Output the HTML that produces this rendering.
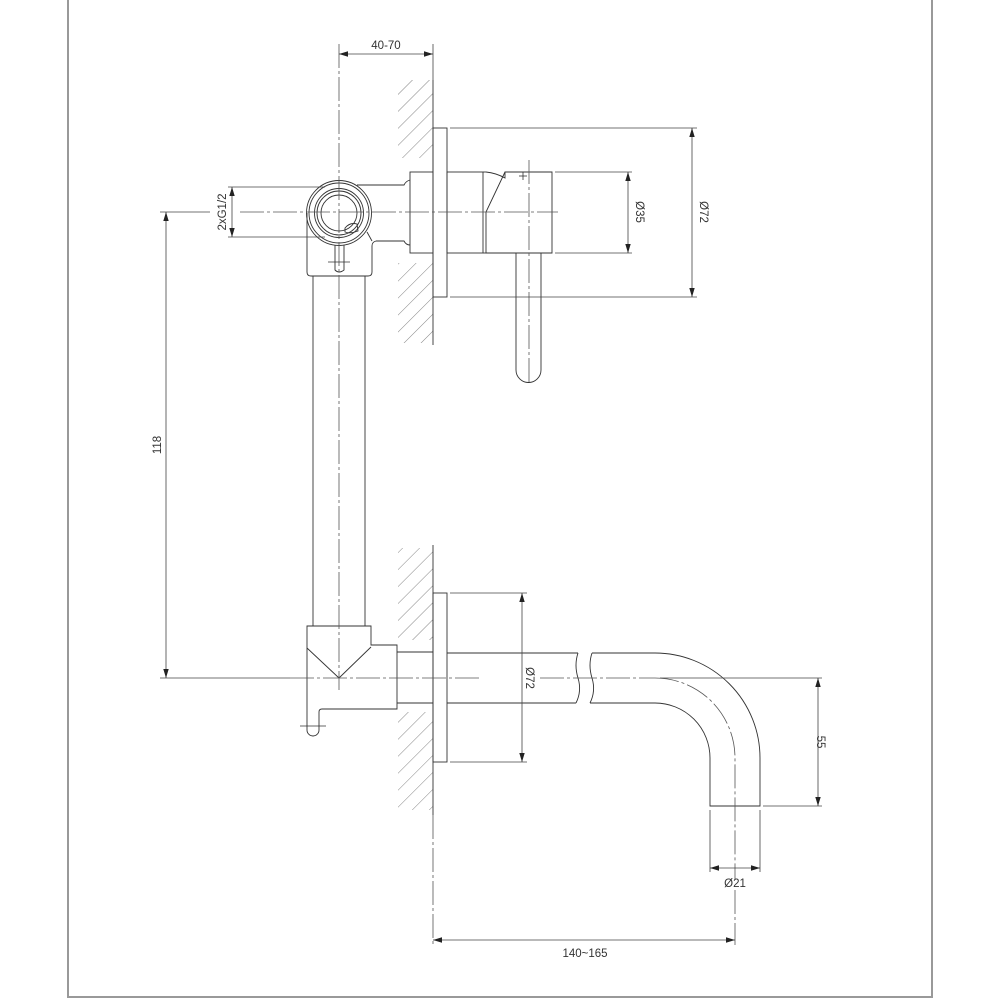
<!DOCTYPE html>
<html><head><meta charset="utf-8"><style>
html,body{margin:0;padding:0;background:#fff;}
svg{display:block;}
text{font-family:"Liberation Sans",sans-serif;font-size:11.5px;fill:#333;}
</style></head><body>
<svg width="1000" height="1000" viewBox="0 0 1000 1000" xmlns="http://www.w3.org/2000/svg">
<defs>
<pattern id="h" patternUnits="userSpaceOnUse" width="12" height="12" patternTransform="rotate(45)">
<line x1="0" y1="0" x2="0" y2="12" stroke="#666" stroke-width="0.8"/>
</pattern>
<marker id="a" viewBox="0 0 10 10" refX="10" refY="5" markerWidth="9" markerHeight="9" orient="auto-start-reverse" markerUnits="userSpaceOnUse">
<path d="M0,2 L10,5 L0,8 z" fill="#222"/>
</marker>
</defs>
<g stroke="#999" stroke-width="2" fill="none">
<line x1="68" y1="0" x2="68" y2="997"/>
<line x1="932" y1="0" x2="932" y2="997"/>
<line x1="67" y1="997" x2="933" y2="997"/>
</g>
<rect x="398" y="80" width="35" height="78" fill="url(#h)"/>
<rect x="398" y="263" width="35" height="80" fill="url(#h)"/>
<rect x="398" y="548" width="35" height="92" fill="url(#h)"/>
<rect x="398" y="712" width="35" height="98" fill="url(#h)"/>

<g stroke="#333" stroke-width="0.9" fill="none">
<line x1="433" y1="80" x2="433" y2="345"/>
<line x1="433" y1="545" x2="433" y2="815"/>
<rect x="433" y="128" width="14" height="169"/>
<rect x="410" y="172" width="23" height="81"/>
<rect x="447" y="172" width="36" height="81"/>
<path d="M486,172 Q496,173 505,178 L505,172 L552,172 L552,253 L486,253 L486,212 L505,172"/>
<line x1="483" y1="172" x2="486" y2="172"/>
<line x1="483" y1="253" x2="486" y2="253"/>
<path d="M516,253 L516,370 A12.5,12.5 0 0 0 541,370 L541,253"/>
<circle cx="339" cy="213" r="32.5"/>
<circle cx="339" cy="213" r="30"/>
<circle cx="339" cy="213" r="24.5"/>
<circle cx="339" cy="213" r="22"/>
<circle cx="339" cy="213" r="18"/>
<path d="M345,228 Q350,222 357,224 L358,231 Q350,234 345,232 z"/>
<path d="M307,213 L307,272 Q307,276 311,276 L368,276 Q372,276 372,272 L372,246 Q372,242 376,241 L404,241 Q406,245 410,245"/>
<path d="M357,185 L404,185 Q406,181 410,180"/>
<path d="M367,232 L372,241"/>
<path d="M335,245 L335,270 Q339,274 344,270 L344,245"/>
<line x1="313" y1="276" x2="313" y2="626"/>
<line x1="365" y1="276" x2="365" y2="626"/>
<path d="M371,645 L371,626 L307,626 L307,730 A6,6 0 0 0 319,730 L319,712 Q319,709 322,709 L397,709 L397,645 Z"/>
<line x1="307" y1="648" x2="339" y2="678"/>
<line x1="371" y1="647" x2="339" y2="678"/>
<line x1="397" y1="652" x2="433" y2="652"/>
<line x1="397" y1="703" x2="433" y2="703"/>
<rect x="433" y="593" width="14" height="169"/>
<path d="M447,653 L578,653 M447,703 L576,703"/>
<path d="M578,653 Q574,665 578,678 Q582,691 576,703"/>
<path d="M592,653 Q588,665 592,678 Q596,691 590,703"/>
<path d="M592,653 L655,653 A105,105 0 0 1 760,758 L760,806 L710,806 L710,758 A55,55 0 0 0 655,703 L590,703"/>
</g>

<g stroke="#555" stroke-width="0.8" fill="none" stroke-dasharray="24,3,3,3">
<line x1="339" y1="44" x2="339" y2="690"/>
<line x1="240" y1="212" x2="558" y2="212"/>
<line x1="529" y1="160" x2="529" y2="385"/>
<line x1="290" y1="678" x2="480" y2="678"/>
<line x1="540" y1="678" x2="655" y2="678"/>
<path d="M655,678 A80,80 0 0 1 735,758 L735,880"/>
<line x1="735" y1="890" x2="735" y2="945"/>
<line x1="433" y1="815" x2="433" y2="945"/>
</g>
<g stroke="#333" stroke-width="0.8">
<line x1="523" y1="172" x2="523" y2="180"/><line x1="519" y1="176" x2="527" y2="176"/>
<line x1="328" y1="262" x2="350" y2="262"/>
<line x1="300" y1="726" x2="326" y2="726"/>
</g>

<g stroke="#444" stroke-width="0.8" fill="none">
<line x1="433" y1="44" x2="433" y2="80"/>
<line x1="339" y1="54" x2="433" y2="54" marker-start="url(#a)" marker-end="url(#a)"/>
<line x1="450" y1="128" x2="697" y2="128"/>
<line x1="450" y1="297" x2="697" y2="297"/>
<line x1="692" y1="128" x2="692" y2="297" marker-start="url(#a)" marker-end="url(#a)"/>
<line x1="555" y1="172" x2="632" y2="172"/>
<line x1="555" y1="253" x2="632" y2="253"/>
<line x1="628" y1="172" x2="628" y2="253" marker-start="url(#a)" marker-end="url(#a)"/>
<line x1="228" y1="187" x2="325" y2="187"/>
<line x1="228" y1="237" x2="325" y2="237"/>
<line x1="232" y1="187" x2="232" y2="237" marker-start="url(#a)" marker-end="url(#a)"/>
<line x1="160" y1="212" x2="210" y2="212"/>
<line x1="160" y1="678" x2="290" y2="678"/>
<line x1="166" y1="212" x2="166" y2="678" marker-start="url(#a)" marker-end="url(#a)"/>
<line x1="450" y1="593" x2="527" y2="593"/>
<line x1="450" y1="762" x2="527" y2="762"/>
<line x1="522" y1="593" x2="522" y2="762" marker-start="url(#a)" marker-end="url(#a)"/>
<line x1="660" y1="678" x2="822" y2="678"/>
<line x1="763" y1="806" x2="822" y2="806"/>
<line x1="818" y1="678" x2="818" y2="806" marker-start="url(#a)" marker-end="url(#a)"/>
<line x1="710" y1="810" x2="710" y2="872"/>
<line x1="760" y1="810" x2="760" y2="872"/>
<line x1="710" y1="868" x2="760" y2="868" marker-start="url(#a)" marker-end="url(#a)"/>
<line x1="433" y1="940" x2="735" y2="940" marker-start="url(#a)" marker-end="url(#a)"/>
</g>

<text x="386" y="49" text-anchor="middle">40-70</text>
<text transform="translate(700,212) rotate(90)" text-anchor="middle">Ø72</text>
<text transform="translate(636,212) rotate(90)" text-anchor="middle">Ø35</text>
<text transform="translate(226,212) rotate(-90)" text-anchor="middle">2xG1/2</text>
<text transform="translate(161,445) rotate(-90)" text-anchor="middle">118</text>
<text transform="translate(526,678) rotate(90)" text-anchor="middle">Ø72</text>
<text transform="translate(817,742) rotate(90)" text-anchor="middle">55</text>
<text x="735" y="887" text-anchor="middle">Ø21</text>
<text x="585" y="957" text-anchor="middle">140~165</text>
</svg>
</body></html>
